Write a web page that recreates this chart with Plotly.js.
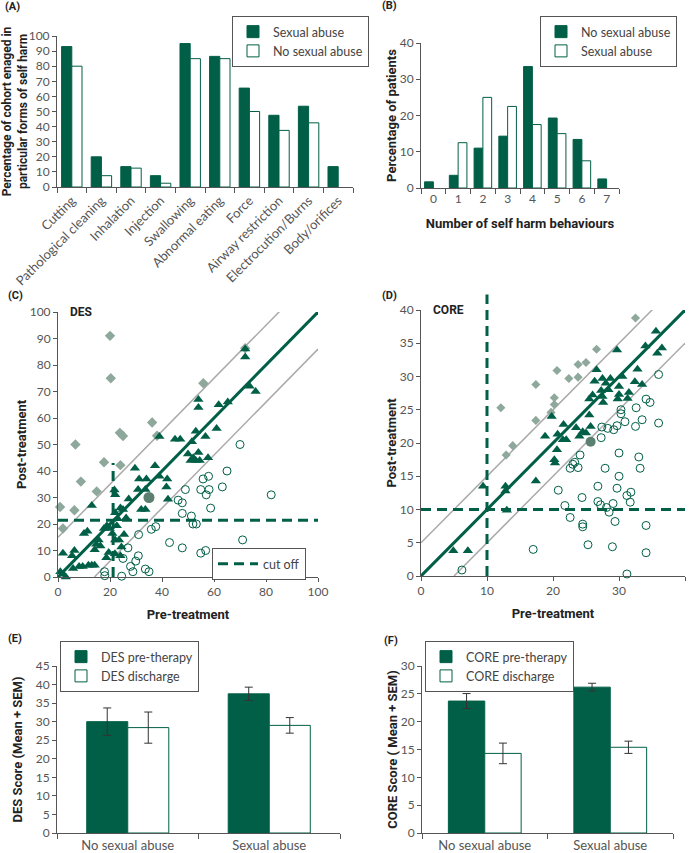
<!DOCTYPE html>
<html><head><meta charset="utf-8">
<script src="https://cdn.plot.ly/plotly-3.0.1.min.js"></script>
<style>body{margin:0;background:#fff}#chart{width:691px;height:853px}</style>
</head><body><div id="chart"></div>
<script>
// ---------- DATA ----------
const harmCategories = ['Cutting','Pathological cleaning','Inhalation','Injection','Swallowing','Abnormal eating','Force','Airway restriction','Electrocution/Burns','Body/orifices'];
const harmSexualAbuse = [93,20,13.5,7.5,95,86.5,65.5,47.5,53.5,13.5];
const harmNoSexualAbuse = [80,7.5,12.5,2.5,85,85,50,37.5,42.5,null];

const behaviourCounts = ['0','1','2','3','4','5','6','7'];
const behavNoSexualAbuse = [1.7,3.5,11,14.3,33.5,19.3,13.4,2.5];
const behavSexualAbuse = [null,12.5,25,22.5,17.5,15,7.5,null];

const desTriX = [72,72,73.7,76,54,54,61.8,65.3,61,53,56.7,45,47,39,51.5,50,51,53,54.5,54,57.7,52,37.3,39,42,41.7,29.6,31.2,34,30.8,33.6,32,33.6,42.3,21.7,22,25,24,27.2,26.2,23,22,13,10,11.3,17.7,18.8,19.9,22.6,20.9,23.5,25.4,22,24.4,14.7,15.6,16.3,14.1,19.5,18.6,21.9,24,1.9,5.4,6.3,8.1,9.5,11.7,13,14.1,5.8,0.9,2,3];
const desTriY = [86,83,72,70,67,64,65,66,56,55,53,52,52,53,51,46.4,44,44,44,47,45,45,42,38,37,34,41,37,37,33,33,25.5,25.5,29.3,32.8,31,25.5,26,29.4,22.3,22,24.2,27,16.4,17.3,18.3,19.3,18.3,19.3,16.4,14,16,14,11.3,12.4,14,11.7,10.3,9.2,7.3,8.8,8,9,8,10,4,4,4.4,4.4,4.4,3.2,2,1,0];
const desDiaX = [20,20.3,6.7,8.8,0.8,1.9,6.3,14.9,17.7,24,23.8,25,36.2,38.1,55.9,72];
const desDiaY = [91,75,50,36,26.4,18.3,25.2,32.3,43.3,42.2,54.4,53.2,58.3,53.3,73.1,86.3];
const desCirX = [70,82,71,65,63.2,57.9,55.8,54.9,57,58.1,58.7,49,46.2,47.8,47.8,51.3,51.9,53.2,37.6,35.9,31,42.9,47.8,54.9,56.8,26.9,30.9,29.9,25,27.9,28.8,33.6,35,24.5,17.9,18];
const desCirY = [50,31,14,40,34,38,37,33,31,33,26,33,29,28,24,23,20,20,19,18,16,13,11,9,10,11,8,6,7,4,2,3,2,0.3,2,0.5];
const desMean = [35,30];
const desCutoff = 21.4, desPreCut = 21.2, desPreCutTop = 43;
const desBandUp = 15, desBandDown = 14;

const coreTriX = [4.9,7.1,9.4,12.8,12.8,13,17.4,18.8,19.8,20.3,20.2,20.6,20.7,21.6,21.5,22,23.5,24,24.5,25,25.7,25.5,26,25.5,26.6,26.3,27.3,27.5,27.5,27.6,28,28.4,28.7,29.7,29.8,30,30,30.5,31.5,31.3,32.4,32.8,33.5,34,35.6,35.8,36.5];
const coreTriY = [3.8,3.8,13.5,13.5,12.8,9.9,14.3,21,24,17,17.5,19,21.3,22.8,20.5,20.5,22.3,21,21.7,21.5,22.5,24.2,27.2,26.6,31,29.3,27.9,29.7,27,26.1,29,28,29.7,34,26.6,28.5,27.3,30,27.6,26.7,29.2,31.1,28.8,34.6,36.8,33.5,34.3];
const coreDiaX = [12.1,12.9,13.9,17.4,17.4,19.7,20.2,20.2,20.6,22.4,23.8,23.8,25,26.6,32.5];
const coreDiaY = [25.3,18.2,19.6,28.8,23.4,24.6,25.8,26.8,30.9,29.7,31.8,29.9,32.1,34.1,38.8];
const coreCirX = [6.2,17,20.8,21.8,22.6,22.6,23,23.3,23.8,24.1,24.4,24.5,24.5,25.3,26.8,26.8,27.2,27.3,27.4,27.9,28.1,28.5,28.3,29.1,29.2,29.4,29,29.7,29.7,30,30,30.3,30.3,30.9,31.2,31.8,31.7,31.2,32.5,32.6,33,33.2,33.5,34.1,34.1,34.1,34.7,36,36];
const coreCirY = [0.9,4,12.9,10.6,8.8,16.2,16.8,17.1,16.3,18.2,11.8,7.8,7.4,4.7,13.5,11.2,10.7,20.8,22.4,16.2,10.3,9.6,22.2,10.9,22,8.2,4.4,13.2,22.6,18.5,15,24.4,25,23.2,12.1,12.6,11.1,0.3,22.5,25.3,17.9,16.2,23.5,7.6,3.5,26.6,26.1,30.3,23];
const coreMean = [25.7,20.2];
const coreCutoff = 10;
const coreBand = 5;

const groupCategories = ['No sexual abuse','Sexual abuse'];
const desPre = [30,37.5], desPreErr = [3.7,1.8];
const desDis = [28.4,29], desDisErr = [4.2,2.1];
const corePre = [23.7,26.2], corePreErr = [1.35,0.7];
const coreDis = [14.3,15.4], coreDisErr = [1.85,1.1];

// ---------- STYLE ----------
const W = 691, H = 853;
const fx = p => p / W, fy = p => 1 - p / H;
const GREEN = '#005f46', GREYLINE = '#aaaaaa', DIAMOND = '#8ea89b', MEANC = '#5b7f70', AXC = '#555555';
const tickFont = {family:'Lato, sans-serif', size:12, color:'#555'};
const titleFont = {family:'Roboto, sans-serif', size:13, color:'#222', weight:'bold'};
const legFont = {family:'Lato, sans-serif', size:12.5, color:'#444'};

function axBase(extra){
  return Object.assign({showline:true, linecolor:AXC, linewidth:1, ticks:'outside', ticklen:4, tickcolor:AXC,
    showgrid:false, zeroline:false, tickfont:tickFont, fixedrange:true}, extra);
}

const traces = [];
// Panel A
traces.push({type:'bar', x:harmCategories, y:harmSexualAbuse, name:'Sexual abuse', xaxis:'x', yaxis:'y', legend:'legend',
  width:0.345, offset:-0.345, marker:{color:GREEN, line:{color:GREEN, width:1}}});
traces.push({type:'bar', x:harmCategories, y:harmNoSexualAbuse, name:'No sexual abuse', xaxis:'x', yaxis:'y', legend:'legend',
  width:0.345, offset:0, marker:{color:'#fff', line:{color:GREEN, width:1}}});
// Panel B
traces.push({type:'bar', x:behaviourCounts, y:behavNoSexualAbuse, name:'No sexual abuse', xaxis:'x2', yaxis:'y2', legend:'legend2',
  width:0.355, offset:-0.355, marker:{color:GREEN, line:{color:GREEN, width:1}}});
traces.push({type:'bar', x:behaviourCounts, y:behavSexualAbuse, name:'Sexual abuse', xaxis:'x2', yaxis:'y2', legend:'legend2',
  width:0.355, offset:0, marker:{color:'#fff', line:{color:GREEN, width:1}}});

// Panel C
traces.push({type:'scatter', mode:'lines', x:[0,100], y:[desBandUp,100+desBandUp], xaxis:'x3', yaxis:'y3', showlegend:false, line:{color:GREYLINE, width:1.5}, hoverinfo:'skip'});
traces.push({type:'scatter', mode:'lines', x:[desBandDown,100], y:[0,100-desBandDown], xaxis:'x3', yaxis:'y3', showlegend:false, line:{color:GREYLINE, width:1.5}, hoverinfo:'skip'});
traces.push({type:'scatter', mode:'lines', x:[0,100], y:[0,100], xaxis:'x3', yaxis:'y3', showlegend:false, line:{color:GREEN, width:3}, hoverinfo:'skip'});
traces.push({type:'scatter', mode:'lines', x:[0,100], y:[desCutoff,desCutoff], name:'cut off', xaxis:'x3', yaxis:'y3', legend:'legend3', line:{color:GREEN, width:3, dash:'10px,6px'}});
traces.push({type:'scatter', mode:'lines', x:[desPreCut,desPreCut], y:[0,desPreCutTop], xaxis:'x3', yaxis:'y3', showlegend:false, line:{color:GREEN, width:3, dash:'10px,6px'}});
traces.push({type:'scatter', mode:'markers', x:desDiaX, y:desDiaY, xaxis:'x3', yaxis:'y3', showlegend:false, cliponaxis:false, marker:{symbol:'diamond', size:8, color:DIAMOND}});
traces.push({type:'scatter', mode:'markers', x:desCirX, y:desCirY, xaxis:'x3', yaxis:'y3', showlegend:false, cliponaxis:false, marker:{symbol:'circle-open', size:8, color:GREEN, line:{width:1}}});
traces.push({type:'scatter', mode:'markers', x:desTriX, y:desTriY, xaxis:'x3', yaxis:'y3', showlegend:false, cliponaxis:false, marker:{symbol:'triangle-up', size:9, color:GREEN}});
traces.push({type:'scatter', mode:'markers', x:[desMean[0]], y:[desMean[1]], xaxis:'x3', yaxis:'y3', showlegend:false, marker:{symbol:'circle', size:11, color:MEANC}});

// Panel D
traces.push({type:'scatter', mode:'lines', x:[0,40], y:[coreBand,40+coreBand], xaxis:'x4', yaxis:'y4', showlegend:false, line:{color:GREYLINE, width:1.5}, hoverinfo:'skip'});
traces.push({type:'scatter', mode:'lines', x:[coreBand,40], y:[0,40-coreBand], xaxis:'x4', yaxis:'y4', showlegend:false, line:{color:GREYLINE, width:1.5}, hoverinfo:'skip'});
traces.push({type:'scatter', mode:'lines', x:[0,40], y:[0,40], xaxis:'x4', yaxis:'y4', showlegend:false, line:{color:GREEN, width:3}, hoverinfo:'skip'});
traces.push({type:'scatter', mode:'markers', x:coreDiaX, y:coreDiaY, xaxis:'x4', yaxis:'y4', showlegend:false, cliponaxis:false, marker:{symbol:'diamond', size:7, color:DIAMOND}});
traces.push({type:'scatter', mode:'markers', x:coreCirX, y:coreCirY, xaxis:'x4', yaxis:'y4', showlegend:false, cliponaxis:false, marker:{symbol:'circle-open', size:8, color:GREEN, line:{width:1}}});
traces.push({type:'scatter', mode:'markers', x:coreTriX, y:coreTriY, xaxis:'x4', yaxis:'y4', showlegend:false, cliponaxis:false, marker:{symbol:'triangle-up', size:9, color:GREEN}});
traces.push({type:'scatter', mode:'markers', x:[coreMean[0]], y:[coreMean[1]], xaxis:'x4', yaxis:'y4', showlegend:false, marker:{symbol:'circle', size:10, color:MEANC}});

// Panel E
const errStyle = {type:'data', color:'#333', thickness:1, width:4};
traces.push({type:'bar', x:groupCategories, y:desPre, name:'DES pre-therapy', xaxis:'x5', yaxis:'y5', legend:'legend4',
  width:0.29, offset:-0.29, marker:{color:GREEN, line:{color:GREEN, width:1}}, error_y:Object.assign({array:desPreErr}, errStyle)});
traces.push({type:'bar', x:groupCategories, y:desDis, name:'DES discharge', xaxis:'x5', yaxis:'y5', legend:'legend4',
  width:0.29, offset:0, marker:{color:'#fff', line:{color:GREEN, width:1}}, error_y:Object.assign({array:desDisErr}, errStyle)});
// Panel F
traces.push({type:'bar', x:groupCategories, y:corePre, name:'CORE pre-therapy', xaxis:'x6', yaxis:'y6', legend:'legend5',
  width:0.29, offset:-0.29, marker:{color:GREEN, line:{color:GREEN, width:1}}, error_y:Object.assign({array:corePreErr}, errStyle)});
traces.push({type:'bar', x:groupCategories, y:coreDis, name:'CORE discharge', xaxis:'x6', yaxis:'y6', legend:'legend5',
  width:0.29, offset:0, marker:{color:'#fff', line:{color:GREEN, width:1}}, error_y:Object.assign({array:coreDisErr}, errStyle)});

function legendAt(x, y){
  return {x:fx(x), y:fy(y), xanchor:'left', yanchor:'top', bordercolor:AXC, borderwidth:1, bgcolor:'#fff',
    font:legFont, itemwidth:30, tracegroupgap:0, itemclick:false, itemdoubleclick:false};
}

const panelLabel = (t, x, y) => ({text:'<b>'+t+'</b>', xref:'paper', yref:'paper', x:fx(x), y:fy(y), xanchor:'left', yanchor:'middle',
  showarrow:false, font:{family:'Roboto, sans-serif', size:11, color:'#222'}});

const layout = {
  width:W, height:H, margin:{l:0, r:0, t:0, b:0}, paper_bgcolor:'#fff', plot_bgcolor:'#fff',
  barmode:'overlay', showlegend:true, hovermode:false,
  font:{family:'Lato, sans-serif', color:'#444'},
  xaxis: axBase({domain:[fx(57), fx(353)], anchor:'y', type:'category', range:[-0.5,9.5], tickangle:-45, tickson:'boundaries', ticklen:5,
    tickfont:Object.assign({}, tickFont, {size:13})}),
  yaxis: axBase({domain:[fy(187), fy(36)], anchor:'x', range:[0,100], dtick:10,
    title:{text:'Percentage of cohort enaged in<br>particular forms of self harm', font:Object.assign({}, titleFont, {size:12}), standoff:0}}),
  xaxis2: axBase({domain:[fx(421), fx(619)], anchor:'y2', type:'category', range:[-0.5,7.5], tickson:'boundaries', ticklen:5,
    title:{text:'Number of self harm behaviours', font:titleFont, standoff:13}}),
  yaxis2: axBase({domain:[fy(188), fy(43)], anchor:'x2', range:[0,40], dtick:10,
    title:{text:'Percentage of patients', font:titleFont, standoff:0}}),
  xaxis3: axBase({domain:[fx(58), fx(318)], anchor:'y3', range:[0,100], dtick:20,
    title:{text:'Pre-treatment', font:titleFont, standoff:11}}),
  yaxis3: axBase({domain:[fy(577), fy(312)], anchor:'x3', range:[0,100], dtick:10,
    title:{text:'Post-treatment', font:titleFont, standoff:0}}),
  xaxis4: axBase({domain:[fx(421), fx(685)], anchor:'y4', range:[0,40], dtick:10,
    title:{text:'Pre-treatment', font:titleFont, standoff:11}}),
  yaxis4: axBase({domain:[fy(576), fy(310)], anchor:'x4', range:[0,40], dtick:5,
    title:{text:'Post-treatment', font:titleFont, standoff:0}}),
  xaxis5: axBase({domain:[fx(57), fx(340)], anchor:'y5', type:'category', range:[-0.5,1.5], tickson:'boundaries', ticklen:5,
    tickfont:Object.assign({}, tickFont, {size:13})}),
  yaxis5: axBase({domain:[fy(833), fy(666)], anchor:'x5', range:[0,45], dtick:5,
    title:{text:'DES Score (Mean + SEM)', font:titleFont, standoff:10}}),
  xaxis6: axBase({domain:[fx(422), fx(673)], anchor:'y6', type:'category', range:[-0.5,1.5], tickson:'boundaries', ticklen:5,
    tickfont:Object.assign({}, tickFont, {size:13})}),
  yaxis6: axBase({domain:[fy(833), fy(666)], anchor:'x6', range:[0,30], dtick:5,
    title:{text:'CORE Score ( Mean + SEM)', font:titleFont, standoff:0}}),
  legend: legendAt(232, 16),
  legend2: legendAt(540, 16),
  legend3: Object.assign(legendAt(212, 548), {itemwidth:40}),
  legend4: legendAt(60, 641),
  legend5: legendAt(425, 641),
  shapes: [
    {type:'line', xref:'x4', yref:'y4', x0:0, x1:40, y0:coreCutoff, y1:coreCutoff, line:{color:GREEN, width:3, dash:'10px,6px'}},
    {type:'line', xref:'x4', yref:'y4 domain', x0:coreCutoff, x1:coreCutoff, y0:0, y1:1.058, line:{color:GREEN, width:3, dash:'10px,6px'}}
  ],
  annotations: [
    panelLabel('(A)', 3, 7), panelLabel('(B)', 380, 6), panelLabel('(C)', 6, 296), panelLabel('(D)', 380, 295),
    panelLabel('(E)', 6, 638), panelLabel('(F)', 382, 640),
    {text:'<b>DES</b>', xref:'x3', yref:'y3', x:4, y:100, xanchor:'left', yanchor:'middle', showarrow:false, font:{family:'Roboto, sans-serif', size:12, color:'#222'}},
    {text:'<b>CORE</b>', xref:'x4', yref:'y4', x:1.5, y:40, xanchor:'left', yanchor:'middle', showarrow:false, font:{family:'Roboto, sans-serif', size:12, color:'#222'}}
  ]
};

Plotly.newPlot('chart', traces, layout, {displayModeBar:false, staticPlot:true});
</script>
</body></html>
